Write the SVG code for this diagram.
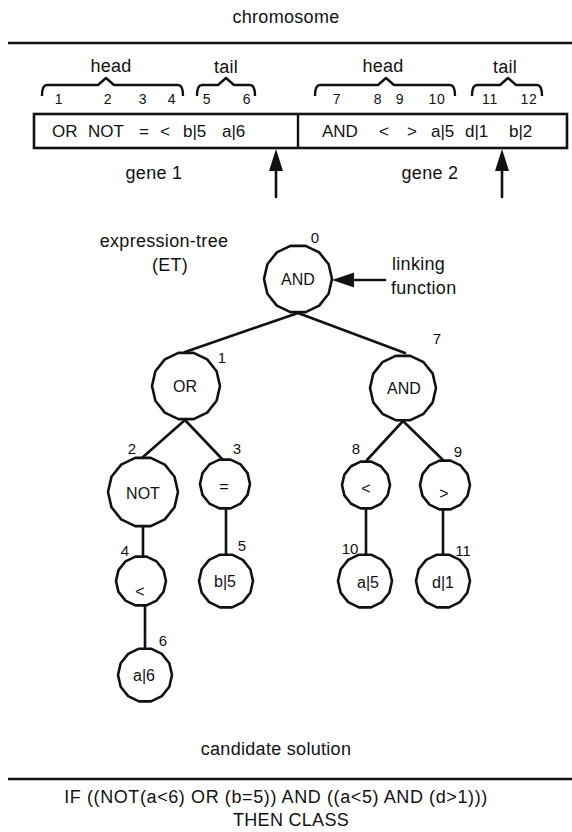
<svg xmlns="http://www.w3.org/2000/svg" xmlns:xlink="http://www.w3.org/1999/xlink" width="572" height="832" viewBox="0 0 572 832">
  <style>
    text { font-family: "Liberation Sans", Arial, Helvetica, sans-serif; fill: #111; }
    .lbl { font-size: 18px; letter-spacing: 0.3px; text-anchor: middle; }
    .num { font-size: 14px; letter-spacing: 0.8px; text-anchor: middle; }
    .idx { font-size: 15px; text-anchor: middle; }
    .gene { font-size: 17px; }
    .nt { font-size: 16px; text-anchor: middle; }
    .rule { stroke: #111; stroke-width: 2.6; fill: none; }
    .edge { stroke: #111; stroke-width: 2.6; fill: none; stroke-linecap: round; }
    .brace { stroke: #111; stroke-width: 2.4; fill: none; stroke-linejoin: round; }
    .head { fill: #111; stroke: none; }
    .node { fill: #fff; stroke: #111; stroke-width: 2.6; vector-effect: non-scaling-stroke; stroke-linejoin: round; }
  </style>
  <defs>
    <!-- unit 14-sided outline used for every tree node -->
    <polygon id="ng" class="node" points="1,0 0.901,0.434 0.623,0.782 0.223,0.975 -0.223,0.975 -0.623,0.782 -0.901,0.434 -1,0 -0.901,-0.434 -0.623,-0.782 -0.223,-0.975 0.223,-0.975 0.623,-0.782 0.901,-0.434"/>
  </defs>

  <rect width="572" height="832" fill="#fff"/>

  <!-- chromosome section -->
  <g id="chromosome">
    <text class="lbl" x="286" y="23">chromosome</text>
    <line class="rule" x1="8" y1="43" x2="572" y2="43"/>

    <path class="brace" d="M42,96 Q42,85 47,85 L98,85 L106,78 L114,85 L178,85 Q183,85 183,96"/>
    <path class="brace" d="M197,96 Q197,85 202,85 L218,85 L226,78 L234,85 L250,85 Q255,85 255,96"/>
    <path class="brace" d="M315,96 Q315,85 320,85 L378,85 L386,78 L394,85 L450,85 Q455,85 455,96"/>
    <path class="brace" d="M472,96 Q472,85 477,85 L500,85 L508,78 L516,85 L537,85 Q542,85 542,96"/>

    <text class="lbl" x="111" y="72">head</text>
    <text class="lbl" x="226" y="73">tail</text>
    <text class="lbl" x="383" y="72">head</text>
    <text class="lbl" x="505" y="73">tail</text>

    <text class="num" x="59" y="104">1</text>
    <text class="num" x="108" y="104">2</text>
    <text class="num" x="143" y="104">3</text>
    <text class="num" x="172" y="104">4</text>
    <text class="num" x="207" y="104">5</text>
    <text class="num" x="247" y="104">6</text>
    <text class="num" x="337" y="104">7</text>
    <text class="num" x="378" y="104">8</text>
    <text class="num" x="400" y="104">9</text>
    <text class="num" x="437" y="104">10</text>
    <text class="num" x="490" y="104">11</text>
    <text class="num" x="529" y="104">12</text>

    <rect x="34" y="114" width="533" height="34" fill="none" stroke="#111" stroke-width="2.6"/>
    <line x1="298" y1="114" x2="298" y2="148" stroke="#111" stroke-width="2.4"/>

    <g class="gene">
      <text x="52" y="137">OR</text>
      <text x="88" y="137">NOT</text>
      <text x="139" y="137">=</text>
      <text x="160" y="137">&lt;</text>
      <text x="183" y="137">b|5</text>
      <text x="222" y="137">a|6</text>
      <text x="322" y="137">AND</text>
      <text x="379" y="137">&lt;</text>
      <text x="407" y="137">&gt;</text>
      <text x="431" y="137">a|5</text>
      <text x="465" y="137">d|1</text>
      <text x="509" y="137">b|2</text>
    </g>

    <text class="lbl" x="154" y="179">gene 1</text>
    <text class="lbl" x="430" y="179">gene 2</text>

    <polygon class="head" points="276,149 269,171 283,171"/>
    <line class="edge" x1="276" y1="170" x2="276" y2="197"/>
    <polygon class="head" points="502,149 495,171 509,171"/>
    <line class="edge" x1="502" y1="170" x2="502" y2="197"/>
  </g>

  <text class="lbl" x="164" y="247">expression-tree</text>
  <text class="lbl" x="170" y="271">(ET)</text>
  <text class="lbl" x="392" y="270" style="text-anchor:start">linking</text>
  <text class="lbl" x="391" y="294" style="text-anchor:start">function</text>

  <!-- tree connectors -->
  <g id="connectors">
    <line class="edge" x1="298" y1="313" x2="185" y2="352"/>
    <line class="edge" x1="298" y1="313" x2="405" y2="353"/>
    <line class="edge" x1="185" y1="420" x2="143" y2="457"/>
    <line class="edge" x1="185" y1="420" x2="223" y2="460"/>
    <polyline class="edge" points="143,527 143,565 145,565"/>
    <line class="edge" x1="226" y1="508" x2="226" y2="555"/>
    <line class="edge" x1="145" y1="605" x2="145" y2="648"/>
    <line class="edge" x1="403" y1="421" x2="367" y2="460"/>
    <line class="edge" x1="403" y1="421" x2="443" y2="460"/>
    <line class="edge" x1="366" y1="509" x2="366" y2="555"/>
    <line class="edge" x1="443" y1="509" x2="443" y2="555"/>
    <line class="edge" x1="354" y1="280" x2="385" y2="280"/>
    <polygon class="head" points="332,280 354,272.5 354,287.5"/>
  </g>

  <!-- tree nodes -->
  <g id="n0">
    <use xlink:href="#ng" transform="translate(298 279) scale(34)"/>
    <text class="nt" x="298" y="285">AND</text>
    <text class="idx" x="315" y="243">0</text>
  </g>
  <g id="n1">
    <use xlink:href="#ng" transform="translate(186 386) scale(34)"/>
    <text class="nt" x="185" y="392">OR</text>
    <text class="idx" x="222" y="363">1</text>
  </g>
  <g id="n2">
    <use xlink:href="#ng" transform="translate(143 492) scale(35)"/>
    <text class="nt" x="143" y="499">NOT</text>
    <text class="idx" x="132" y="454">2</text>
  </g>
  <g id="n3">
    <use xlink:href="#ng" transform="translate(225 484) scale(25)"/>
    <text class="nt" x="224" y="492">=</text>
    <text class="idx" x="237" y="454">3</text>
  </g>
  <g id="n4">
    <use xlink:href="#ng" transform="translate(141 581) scale(25)"/>
    <text class="nt" x="140" y="597">&lt;</text>
    <text class="idx" x="125" y="556">4</text>
  </g>
  <g id="n5">
    <use xlink:href="#ng" transform="translate(226 581) scale(27)"/>
    <text class="nt" x="225" y="587">b|5</text>
    <text class="idx" x="242" y="551">5</text>
  </g>
  <g id="n6">
    <use xlink:href="#ng" transform="translate(145 675) scale(27)"/>
    <text class="nt" x="144" y="681">a|6</text>
    <text class="idx" x="163" y="646">6</text>
  </g>
  <g id="n7">
    <use xlink:href="#ng" transform="translate(403 388) scale(33)"/>
    <text class="nt" x="404" y="394">AND</text>
    <text class="idx" x="437" y="344">7</text>
  </g>
  <g id="n8">
    <use xlink:href="#ng" transform="translate(366 485) scale(24)"/>
    <text class="nt" x="366" y="494">&lt;</text>
    <text class="idx" x="356" y="454">8</text>
  </g>
  <g id="n9">
    <use xlink:href="#ng" transform="translate(445 485) scale(25)"/>
    <text class="nt" x="444" y="499">&gt;</text>
    <text class="idx" x="458" y="457">9</text>
  </g>
  <g id="n10">
    <use xlink:href="#ng" transform="translate(365 581) scale(27)"/>
    <text class="nt" x="368" y="588">a|5</text>
    <text class="idx" x="350" y="554">10</text>
  </g>
  <g id="n11">
    <use xlink:href="#ng" transform="translate(443 581) scale(27)"/>
    <text class="nt" x="443" y="588">d|1</text>
    <text class="idx" x="463" y="556">11</text>
  </g>

  <!-- resulting rule -->
  <g id="solution">
    <text class="lbl" x="276" y="755">candidate solution</text>
    <line class="rule" x1="8" y1="779" x2="572" y2="779"/>
    <text class="lbl" x="276" y="803" style="letter-spacing:0.6px">IF ((NOT(a&lt;6) OR (b=5)) AND ((a&lt;5) AND (d&gt;1)))</text>
    <text class="lbl" x="291" y="826">THEN CLASS</text>
  </g>
</svg>
